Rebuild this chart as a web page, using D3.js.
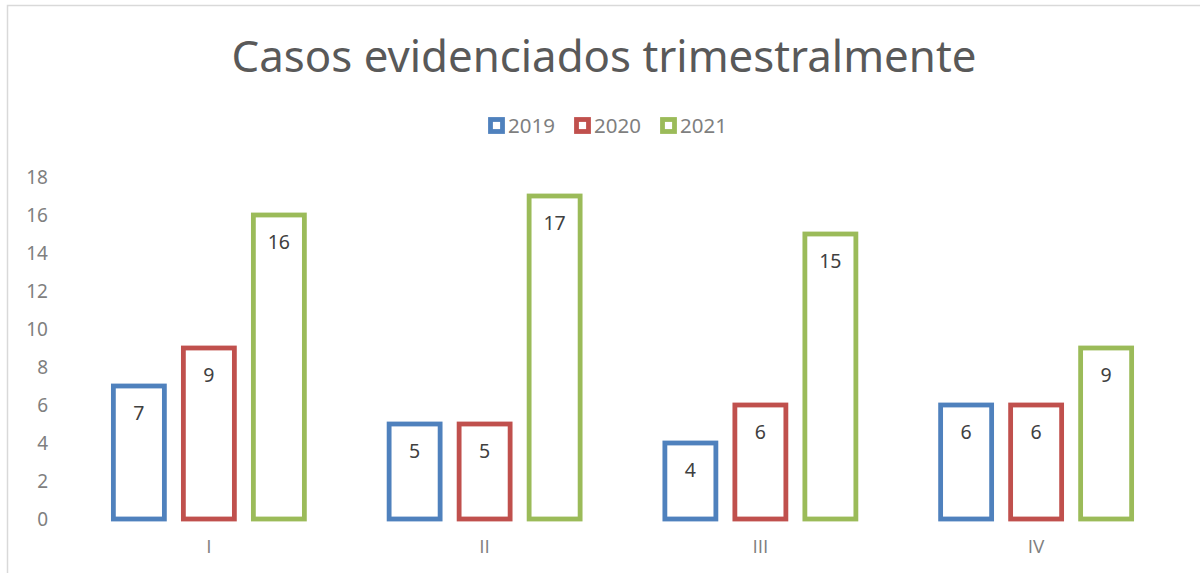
<!DOCTYPE html>
<html>
<head>
<meta charset="utf-8">
<script src="https://cdn.jsdelivr.net/npm/d3@7"></script>
<style>
  html, body { margin: 0; padding: 0; background: #fff; }
  svg { display: block; font-family: "Noto Sans", "Open Sans", sans-serif; }
</style>
</head>
<body>
<svg id="chart" width="1200" height="573"></svg>
<script>
// data
const quarters = ["I", "II", "III", "IV"];
const years = ["2019", "2020", "2021"];
const cases2019 = [7, 5, 4, 6];
const cases2020 = [9, 5, 6, 6];
const cases2021 = [16, 17, 15, 9];
const yTicks = [0, 2, 4, 6, 8, 10, 12, 14, 16, 18];
const colors = ["#4f81bd", "#c0504d", "#9bbb59"];

const series = [cases2019, cases2020, cases2021];
const font = "Noto Sans, Open Sans, sans-serif";

const svg = d3.select("#chart");

// outer chart frame
svg.append("rect")
    .attr("x", 7.5).attr("y", 5.5)
    .attr("width", 1300).attr("height", 700)
    .attr("fill", "none")
    .attr("stroke", "#d9d9d9")
    .attr("stroke-width", 1.5);

// title
svg.append("text")
    .attr("x", 604).attr("y", 72)
    .attr("text-anchor", "middle")
    .attr("font-size", 43.8)
    .attr("fill", "#595959")
    .text("Casos evidenciados trimestralmente");

// scales
const x = d3.scaleBand(quarters, [71, 1174]);
const y = d3.scaleLinear([0, 18], [519, 177]);

// y axis labels
svg.append("g")
    .attr("transform", "translate(48,0)")
    .call(d3.axisLeft(y).tickValues(yTicks).tickSize(0).tickPadding(0))
    .attr("font-family", font)
    .attr("font-size", 19)
    .call(g => g.select(".domain").remove())
    .selectAll("text")
    .attr("fill", "#7f7f7f");

// x axis labels (Open Sans: plain capital I)
svg.append("g")
    .attr("transform", "translate(0,539)")
    .call(d3.axisBottom(x).tickSize(0).tickPadding(0))
    .attr("font-family", "Open Sans, sans-serif")
    .attr("font-size", 19)
    .call(g => g.select(".domain").remove())
    .selectAll("text")
    .attr("dy", "0.71em")
    .attr("fill", "#7f7f7f");

// bars
const bw = 70;
series.forEach((vals, s) => {
    const g = svg.append("g");
    const cx = q => x(q) + x.bandwidth() / 2 + (s - 1) * bw;
    g.selectAll("rect")
        .data(quarters)
        .join("rect")
        .attr("x", q => cx(q) - 25.5)
        .attr("width", 51)
        .attr("y", (q, i) => y(vals[i]))
        .attr("height", (q, i) => y(0) - y(vals[i]))
        .attr("fill", "none")
        .attr("stroke", colors[s])
        .attr("stroke-width", 4.8);

    g.selectAll("text")
        .data(quarters)
        .join("text")
        .attr("x", q => cx(q))
        .attr("y", (q, i) => y(vals[i]) + 27)
        .attr("dy", "0.35em")
        .attr("text-anchor", "middle")
        .attr("font-size", 19.5)
        .attr("fill", "#404040")
        .text((q, i) => vals[i]);
});

// legend
const legendX = [488, 574, 660];
years.forEach((yr, i) => {
    svg.append("rect")
        .attr("x", legendX[i] + 2.5).attr("y", 119.5)
        .attr("width", 12).attr("height", 12)
        .attr("fill", "none")
        .attr("stroke", colors[i])
        .attr("stroke-width", 4.8);
    svg.append("text")
        .attr("x", legendX[i] + 20).attr("y", 126)
        .attr("dy", "0.35em")
        .attr("font-size", 20.5)
        .attr("fill", "#7f7f7f")
        .text(yr);
});
</script>
</body>
</html>
